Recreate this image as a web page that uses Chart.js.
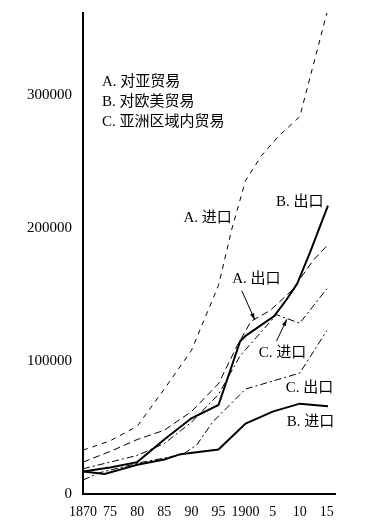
<!DOCTYPE html>
<html>
<head>
<meta charset="utf-8">
<script src="https://cdn.jsdelivr.net/npm/chart.js@4/dist/chart.umd.min.js"></script>
<style>
  html, body { margin: 0; padding: 0; background: #fff; }
</style>
</head>
<body>
<canvas id="chart" width="368" height="521"></canvas>
<script>
// values (trade value, year)
const xTicks = [1870, 1875, 1880, 1885, 1890, 1895, 1900, 1905, 1910, 1915]
const xTickLabels = ['1870', '75', '80', '85', '90', '95', '1900', '5', '10', '15']
const yTicks = [0, 100000, 200000, 300000]

const aImportYears = [1870, 1875, 1880, 1885, 1890, 1895, 1897.5, 1900, 1903, 1906, 1910, 1915]
const aImport = [33000, 40000, 51000, 79000, 108000, 157000, 200000, 236000, 255000, 269000, 284000, 362000]

const aExportYears = [1870, 1875, 1880, 1885, 1890, 1895, 1898.5, 1901, 1904.5, 1908.5, 1912.5, 1915.3]
const aExport = [24000, 32000, 41000, 48000, 62000, 83000, 112000, 130000, 138000, 153000, 176000, 188000]

const bExportYears = [1870, 1875, 1880, 1885, 1890, 1895, 1899, 1900, 1905.3, 1907.5, 1909.5, 1912, 1915.2]
const bExport = [17000, 20000, 24000, 41000, 57000, 67000, 115000, 119000, 134000, 146000, 158000, 183000, 217000]

const bImportYears = [1870, 1874, 1880, 1885, 1888, 1895, 1900, 1905, 1910, 1915.2]
const bImport = [17000, 15000, 22000, 26000, 30000, 33500, 53000, 62000, 68000, 66000]

const cImportYears = [1870, 1875, 1880, 1885, 1890, 1895, 1899, 1905.7, 1910, 1915]
const cImport = [19000, 24000, 29000, 38000, 54000, 75000, 104000, 135000, 128500, 154500]

const cExportYears = [1870, 1873, 1881, 1885, 1888.5, 1891, 1894, 1900, 1905, 1910, 1915]
const cExport = [10500, 16000, 24000, 27000, 30000, 37000, 54500, 79000, 85000, 91000, 123000]

const legendLines = ['A. 对亚贸易', 'B. 对欧美贸易', 'C. 亚洲区域内贸易']

const seriesLabels = [
  { text: 'A. 进口', x: 1893.0, y: 208000 },
  { text: 'B. 出口', x: 1910.0, y: 220000 },
  { text: 'A. 出口', x: 1902.0, y: 162000 },
  { text: 'C. 进口', x: 1906.8, y: 106000 },
  { text: 'C. 出口', x: 1911.8, y: 79500 },
  { text: 'B. 进口', x: 1912.0, y: 54500 }
]

const arrows = [
  { from: [1899.3, 153000], to: [1901.7, 131000] },
  { from: [1905.7, 115000], to: [1907.6, 131500] }
]

const FONT = '"Liberation Serif", "Noto Sans CJK SC", serif'

function pts(xs, ys) {
  return xs.map((x, i) => ({ x: x, y: ys[i] }))
}

function line(label, xs, ys, dash, width) {
  return {
    label: label,
    data: pts(xs, ys),
    borderColor: '#000',
    borderWidth: width,
    borderDash: dash,
    pointRadius: 0,
    tension: 0,
    fill: false
  }
}

const textPlugin = {
  id: 'textPlugin',
  afterDatasetsDraw(chart) {
    const ctx = chart.ctx
    const xs = chart.scales.x
    const ys = chart.scales.y
    ctx.save()
    ctx.fillStyle = '#000'
    ctx.strokeStyle = '#000'
    ctx.font = '15px ' + FONT
    ctx.textBaseline = 'middle'
    ctx.textAlign = 'left'
    legendLines.forEach((t, i) => {
      ctx.fillText(t, 102, 82 + i * 20)
    })
    ctx.textAlign = 'center'
    seriesLabels.forEach(l => {
      ctx.fillText(l.text, xs.getPixelForValue(l.x), ys.getPixelForValue(l.y))
    })
    ctx.lineWidth = 1
    arrows.forEach(a => {
      const x1 = xs.getPixelForValue(a.from[0])
      const y1 = ys.getPixelForValue(a.from[1])
      const x2 = xs.getPixelForValue(a.to[0])
      const y2 = ys.getPixelForValue(a.to[1])
      const ang = Math.atan2(y2 - y1, x2 - x1)
      ctx.beginPath()
      ctx.moveTo(x1, y1)
      ctx.lineTo(x2, y2)
      ctx.stroke()
      ctx.beginPath()
      ctx.moveTo(x2, y2)
      ctx.lineTo(x2 - 7 * Math.cos(ang - 0.3), y2 - 7 * Math.sin(ang - 0.3))
      ctx.lineTo(x2 - 7 * Math.cos(ang + 0.3), y2 - 7 * Math.sin(ang + 0.3))
      ctx.closePath()
      ctx.fill()
    })
    ctx.restore()
  }
}

new Chart(document.getElementById('chart'), {
  type: 'line',
  data: {
    datasets: [
      line('A. 进口', aImportYears, aImport, [5, 5], 1),
      line('A. 出口', aExportYears, aExport, [7, 4], 1),
      line('B. 出口', bExportYears, bExport, [], 2),
      line('B. 进口', bImportYears, bImport, [], 2),
      line('C. 进口', cImportYears, cImport, [7, 3, 2, 3], 1),
      line('C. 出口', cExportYears, cExport, [7, 3, 2, 3], 1)
    ]
  },
  options: {
    responsive: false,
    animation: false,
    devicePixelRatio: 1,
    layout: { padding: { top: 13, right: 33, left: 0, bottom: 0 } },
    plugins: {
      legend: { display: false },
      tooltip: { enabled: false }
    },
    scales: {
      x: {
        type: 'linear',
        min: 1870,
        max: 1916.5,
        afterFit(scale) {
          scale.height = 27
          scale.paddingLeft = 0
          scale.paddingRight = 0
        },
        afterBuildTicks(scale) { scale.ticks = xTicks.map(v => ({ value: v })) },
        grid: { display: false },
        border: { display: true, color: '#000', width: 2 },
        ticks: {
          color: '#000',
          padding: 2,
          maxRotation: 0,
          autoSkip: false,
          font: { family: FONT, size: 14 },
          callback: (v) => xTickLabels[xTicks.indexOf(v)]
        }
      },
      y: {
        min: 0,
        max: 362000,
        afterFit(scale) {
          scale.width = 83
          scale.paddingTop = 0
          scale.paddingBottom = 0
        },
        afterBuildTicks(scale) { scale.ticks = yTicks.map(v => ({ value: v })) },
        grid: { display: false },
        border: { display: true, color: '#000', width: 2 },
        ticks: {
          color: '#000',
          padding: 3,
          font: { family: FONT, size: 15 },
          callback: (v) => String(v)
        }
      }
    }
  },
  plugins: [textPlugin]
})
</script>
</body>
</html>
